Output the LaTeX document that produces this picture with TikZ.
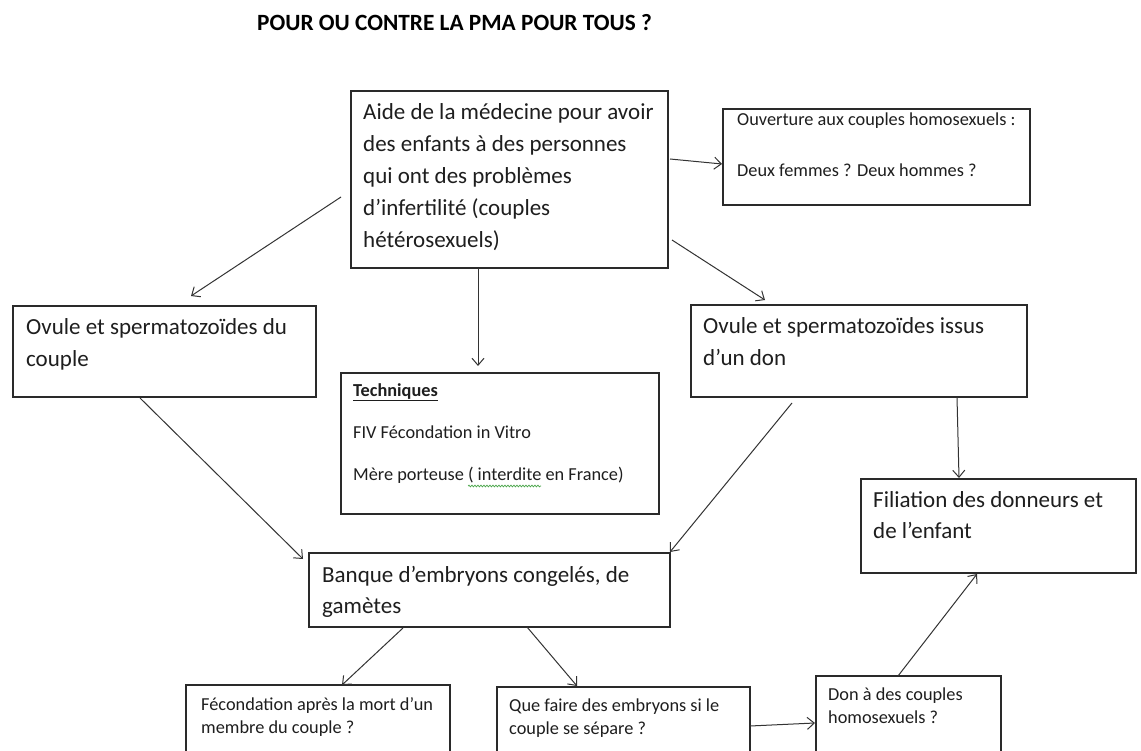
\documentclass[tikz,border=0pt]{standalone}
\usepackage{fontspec}
\setmainfont{Carlito}
\usetikzlibrary{arrows.meta,calc,decorations.pathmorphing}
\definecolor{boxline}{HTML}{2A2A2A}
\definecolor{arrline}{HTML}{333333}
\definecolor{txt}{HTML}{1E1E1E}
\definecolor{spell}{HTML}{4CA64C}
\tikzset{
  box/.style={draw=boxline, line width=1.3pt, rectangle, inner sep=0pt, outer sep=0pt, anchor=north west, fill=white},
  big/.style={anchor=base west, inner sep=0pt, text=txt, font=\fontsize{23}{32}\selectfont},
  small/.style={anchor=base west, inner sep=0pt, text=txt, font=\fontsize{18.3}{23.5}\selectfont},
  arr/.style={draw=arrline, line width=1pt, -{Straight Barb[length=7pt,width=12pt]}},
}
\newcommand\lns[1]{\parbox[t]{400pt}{\raggedright #1}}
\begin{document}
\begin{tikzpicture}[x=1pt,y=-1pt]
\path[use as bounding box] (0,0) rectangle (1141,751);
\clip (0,0) rectangle (1141,751);
\fill[white] (0,0) rectangle (1141,751);

% title
\node[anchor=base west, inner sep=0pt, font=\fontsize{23.3}{28}\selectfont\bfseries] (title) at (257,31) {POUR OU CONTRE LA PMA POUR TOUS ?};

% boxes
\node[box, minimum width=317pt, minimum height=177pt] (A) at (351,91) {};
\node[box, minimum width=307pt, minimum height=96pt]  (B) at (723,109) {};
\node[box, minimum width=303pt, minimum height=91pt]  (C) at (13,306) {};
\node[box, minimum width=336pt, minimum height=92pt]  (D) at (691,305) {};
\node[box, minimum width=318pt, minimum height=141pt] (E) at (341,373) {};
\node[box, minimum width=275pt, minimum height=94pt]  (F) at (861,479) {};
\node[box, minimum width=361pt, minimum height=74pt]  (G) at (309,553) {};
\node[box, minimum width=264pt, minimum height=100pt] (H) at (186,685) {};
\node[box, minimum width=253pt, minimum height=100pt] (I) at (497,687) {};
\node[box, minimum width=185pt, minimum height=100pt] (J) at (816,676) {};

% texts
\node[big] (tA) at (363,120) {\lns{Aide de la médecine pour avoir\\ des enfants à des personnes\\ qui ont des problèmes\\ d’infertilité (couples\\ hétérosexuels)}};
\node[small] (tB) at (737,126) {\lns{Ouverture aux couples homosexuels :\\[27pt] Deux femmes ? Deux hommes ?}};
\node[big] (tC) at (26,335) {\lns{Ovule et spermatozoïdes du\\ couple}};
\node[big] (tD) at (703,334) {\lns{Ovule et spermatozoïdes issus\\ d’un don}};
\node[small] (tE) at (353,396) {\lns{\textbf{\underline{Techniques}}\\[18.5pt] FIV Fécondation in Vitro\\[18.5pt] Mère porteuse ( interdite en France)}};
\node[big, font=\fontsize{23}{31}\selectfont] (tF) at (873,507) {\lns{Filiation des donneurs et\\ de l’enfant}};
\node[big, font=\fontsize{23}{31}\selectfont] (tG) at (322,582) {\lns{Banque d’embryons congelés, de\\ gamètes}};
\node[small] (tH) at (201,710) {\lns{Fécondation après la mort d’un\\ membre du couple ?}};
\node[small] (tI) at (509,711) {\lns{Que faire des embryons si le\\ couple se sépare ?}};
\node[small] (tJ) at (828,700) {\lns{Don à des couples\\ homosexuels ?}};

% spell-check wave
\draw[spell, line width=0.7pt, decorate, decoration={snake, amplitude=0.9pt, segment length=3pt}] (468,486) -- (541,486);

% connectors
\draw[arr] ($(A.north west)+(319,68)$)  -- ($(B.north west)+(-1,55)$);
\draw[arr] ($(A.north west)+(-10,106)$) -- ($(C.north west)+(178,-10)$);
\draw[arr] ($(A.north west)+(127,177)$) -- ($(E.north west)+(137,-7)$);
\draw[arr] ($(A.north west)+(321,149)$) -- ($(D.north west)+(74,-5)$);
\draw[arr] ($(C.north west)+(127,92)$)  -- ($(G.north west)+(-6,6)$);
\draw[arr] ($(D.north west)+(101,98)$)  -- ($(G.north west)+(361,-1)$);
\draw[arr] ($(D.north west)+(266,92)$)  -- ($(F.north west)+(98,-1)$);
\draw[arr] ($(G.north west)+(94,75)$)   -- ($(H.north west)+(156,0)$);
\draw[arr] ($(G.north west)+(218,74)$)  -- ($(I.north west)+(80,-1)$);
\draw[arr] ($(I.north west)+(253,39)$)  -- ($(J.north west)+(-1,47)$);
\draw[arr] ($(J.north west)+(82,0)$)    -- ($(F.north west)+(116,95)$);
\end{tikzpicture}
\end{document}
